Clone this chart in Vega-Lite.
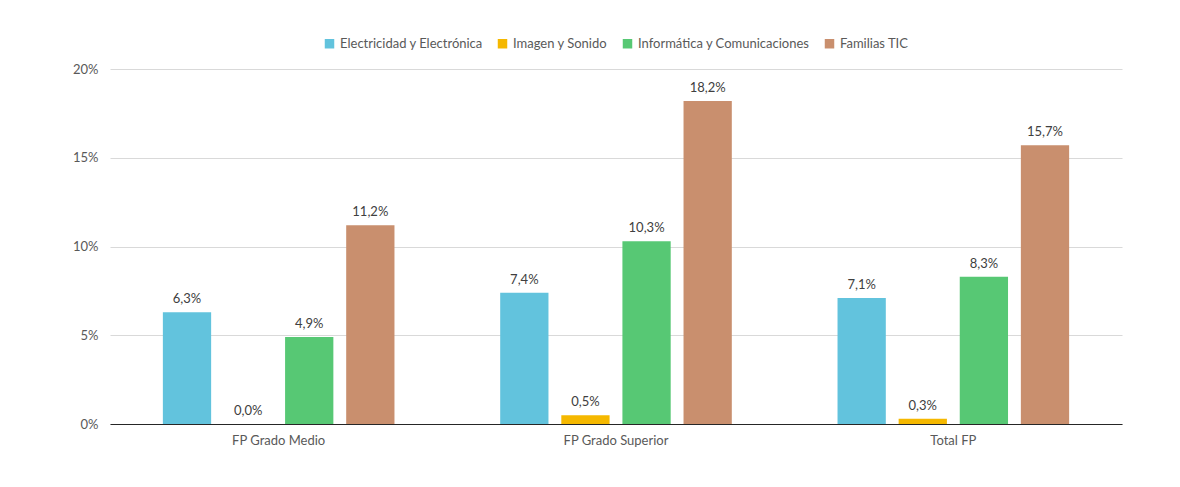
{
  "$schema": "https://vega.github.io/schema/vega-lite/v6.json",
  "autosize": {"type": "none"},
  "width": 1012,
  "height": 355,
  "padding": {"left": 110, "top": 69, "right": 58, "bottom": 63},
  "background": "white",
  "config": {
    "font": "Lato",
    "view": {"stroke": null},
    "legend": {"layout": {"top": {"anchor": "middle"}}},
    "locale": {"number": {"decimal": ",", "thousands": ".", "grouping": [3], "currency": ["", " €"]}}
  },
  "data": {
    "values": [
      {"nivel": "FP Grado Medio", "familia": "Electricidad y Electrónica", "valor": 0.063},
      {"nivel": "FP Grado Medio", "familia": "Imagen y Sonido", "valor": 0.0},
      {"nivel": "FP Grado Medio", "familia": "Informática y Comunicaciones", "valor": 0.049},
      {"nivel": "FP Grado Medio", "familia": "Familias TIC", "valor": 0.112},
      {"nivel": "FP Grado Superior", "familia": "Electricidad y Electrónica", "valor": 0.074},
      {"nivel": "FP Grado Superior", "familia": "Imagen y Sonido", "valor": 0.005},
      {"nivel": "FP Grado Superior", "familia": "Informática y Comunicaciones", "valor": 0.103},
      {"nivel": "FP Grado Superior", "familia": "Familias TIC", "valor": 0.182},
      {"nivel": "Total FP", "familia": "Electricidad y Electrónica", "valor": 0.071},
      {"nivel": "Total FP", "familia": "Imagen y Sonido", "valor": 0.003},
      {"nivel": "Total FP", "familia": "Informática y Comunicaciones", "valor": 0.083},
      {"nivel": "Total FP", "familia": "Familias TIC", "valor": 0.157}
    ]
  },
  "encoding": {
    "x": {
      "field": "nivel", "type": "nominal", "sort": null,
      "scale": {"paddingInner": 0, "paddingOuter": 0},
      "axis": {
        "title": null, "labelAngle": 0, "ticks": false, "domainColor": "#262626",
        "labelFontSize": 13, "labelColor": "#595959", "labelPadding": 10
      }
    },
    "xOffset": {
      "field": "familia", "type": "nominal",
      "sort": ["Electricidad y Electrónica", "Imagen y Sonido", "Informática y Comunicaciones", "Familias TIC"],
      "scale": {"paddingInner": 0.21, "paddingOuter": 0.865}
    },
    "y": {
      "field": "valor", "type": "quantitative",
      "scale": {"domain": [0, 0.2]},
      "axis": {
        "title": null, "format": ".0%", "values": [0, 0.05, 0.1, 0.15, 0.2],
        "labelOverlap": false,
        "domain": false, "ticks": false, "gridColor": "#d9d9d9",
        "labelFontSize": 13, "labelColor": "#595959", "labelPadding": 12
      }
    }
  },
  "layer": [
    {
      "mark": {"type": "bar"},
      "encoding": {
        "color": {
          "field": "familia", "type": "nominal",
          "sort": ["Electricidad y Electrónica", "Imagen y Sonido", "Informática y Comunicaciones", "Familias TIC"],
          "scale": {"range": ["#62c3dd", "#f5b800", "#57c874", "#c98f6e"]},
          "legend": {
            "title": null, "orient": "top", "direction": "horizontal",
            "symbolType": "square", "symbolSize": 90, "symbolStrokeWidth": 0,
            "labelFontSize": 13, "labelColor": "#595959", "columnPadding": 13,
            "labelLimit": 400, "offset": 18, "labelOffset": 4
          }
        }
      }
    },
    {
      "mark": {"type": "text", "dy": -13, "fontSize": 13, "color": "#404040"},
      "encoding": {
        "text": {"field": "valor", "type": "quantitative", "format": ".1%"}
      }
    }
  ]
}
